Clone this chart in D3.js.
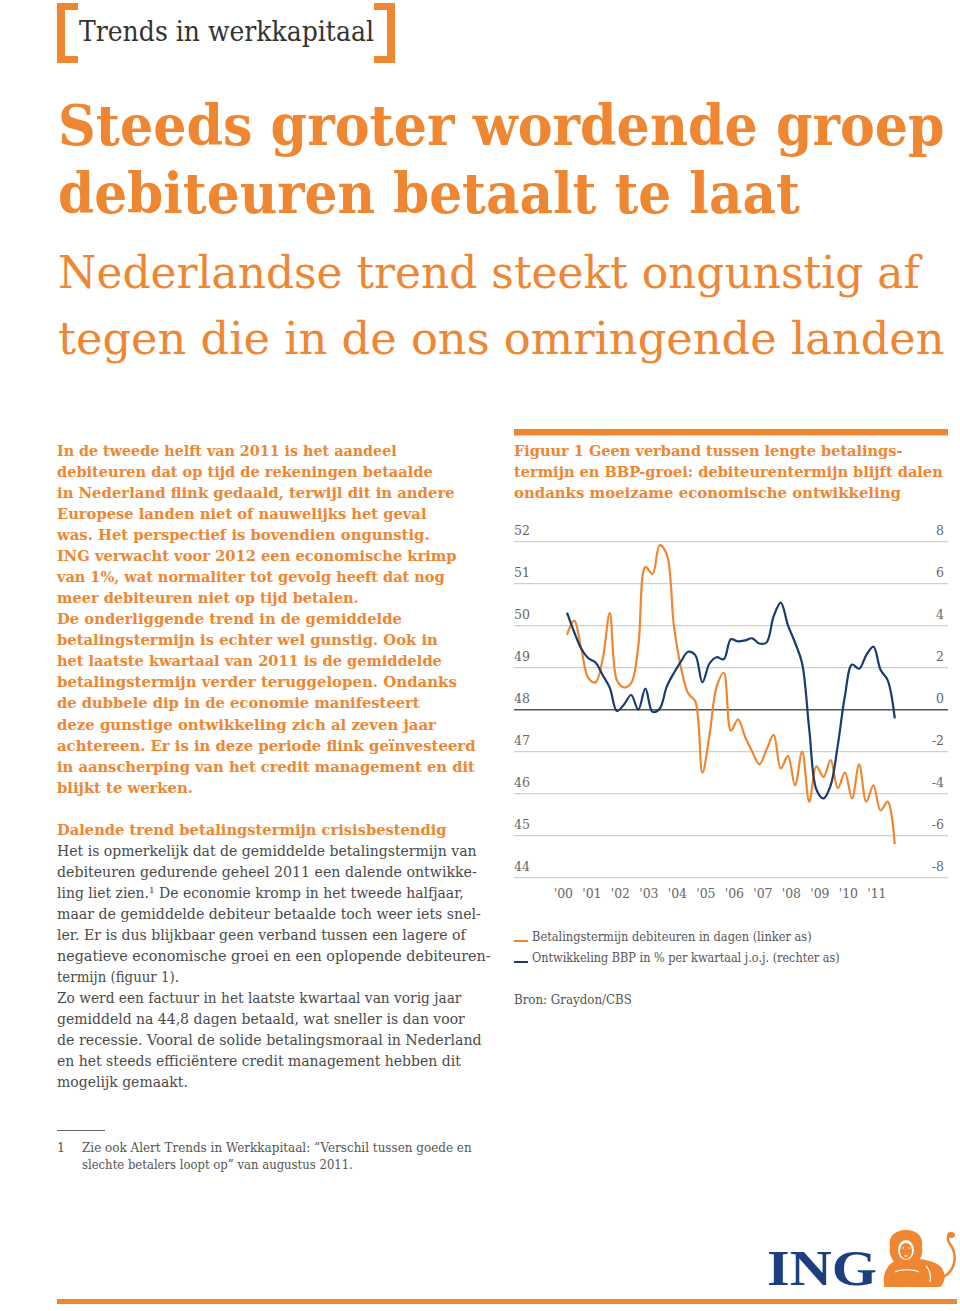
<!DOCTYPE html>
<html><head><meta charset="utf-8">
<script src="https://cdnjs.cloudflare.com/ajax/libs/d3/7.8.5/d3.min.js"></script>
<style>
html,body{margin:0;padding:0;background:#fff;}
svg{display:block;}
</style></head>
<body>
<svg id="page" width="960" height="1311"></svg>
<script>
// ---------------- DATA ----------------
const quarters = ["2000Q2","2000Q3","2000Q4","2001Q1","2001Q2","2001Q3","2001Q4","2002Q1","2002Q2","2002Q3","2002Q4",
 "2003Q1","2003Q2","2003Q3","2003Q4","2004Q1","2004Q2","2004Q3","2004Q4","2005Q1","2005Q2","2005Q3","2005Q4",
 "2006Q1","2006Q2","2006Q3","2006Q4","2007Q1","2007Q2","2007Q3","2007Q4","2008Q1","2008Q2","2008Q3","2008Q4",
 "2009Q1","2009Q2","2009Q3","2009Q4","2010Q1","2010Q2","2010Q3","2010Q4","2011Q1","2011Q2","2011Q3","2011Q4"];
// Betalingstermijn debiteuren in dagen (linker as)
const termijn = [49.78, 50.12, 49.45, 48.75, 48.65, 49.2, 50.3, 48.7, 48.53, 48.63, 49.5,
 51.4, 51.23, 51.92, 51.7, 50.0, 49.0, 48.39, 48.2, 46.5, 47.4, 48.55, 48.88,
 47.5, 47.77, 47.35, 47.0, 46.7, 47.05, 47.4, 46.6, 46.9, 46.2, 47.0, 45.81,
 46.65, 46.4, 46.8, 46.13, 46.5, 45.89, 46.7, 45.81, 46.2, 45.6, 45.81, 44.8];
// Ontwikkeling BBP in % per kwartaal j.o.j. (rechter as)
const bbp = [4.62, 3.7, 2.9, 2.45, 2.25, 1.65, 1.05, -0.06, 0.25, 0.7, 0.0,
 1.0, -0.1, 0.05, 1.1, 1.75, 2.3, 2.76, 2.6, 1.3, 2.2, 2.5, 2.4,
 3.35, 3.25, 3.3, 3.4, 3.15, 3.2, 4.45, 5.1, 4.03, 3.2, 2.2, -0.95,
 -3.8, -4.22, -3.6, -1.7, 0.65, 2.15, 1.95, 2.6, 3.0, 1.9, 1.41, -0.41];
const leftTicks = [44,45,46,47,48,49,50,51,52];
const rightTicks = [-8,-6,-4,-2,0,2,4,6,8];
const yearTicks = [2000,2001,2002,2003,2004,2005,2006,2007,2008,2009,2010,2011];
const legendLabels = ["Betalingstermijn debiteuren in dagen (linker as)","Ontwikkeling BBP in % per kwartaal j.o.j. (rechter as)"];

// ---------------- TEXT ----------------
const chartTitle = ["Figuur 1 Geen verband tussen lengte betalings-",
 "termijn en BBP-groei: debiteurentermijn blijft dalen",
 "ondanks moeizame economische ontwikkeling"];
const introLines = ["In de tweede helft van 2011 is het aandeel",
 "debiteuren dat op tijd de rekeningen betaalde",
 "in Nederland flink gedaald, terwijl dit in andere",
 "Europese landen niet of nauwelijks het geval",
 "was. Het perspectief is bovendien ongunstig.",
 "ING verwacht voor 2012 een economische krimp",
 "van 1%, wat normaliter tot gevolg heeft dat nog",
 "meer debiteuren niet op tijd betalen.",
 "De onderliggende trend in de gemiddelde",
 "betalingstermijn is echter wel gunstig. Ook in",
 "het laatste kwartaal van 2011 is de gemiddelde",
 "betalingstermijn verder teruggelopen. Ondanks",
 "de dubbele dip in de economie manifesteert",
 "deze gunstige ontwikkeling zich al zeven jaar",
 "achtereen. Er is in deze periode flink geïnvesteerd",
 "in aanscherping van het credit management en dit",
 "blijkt te werken."];
const introWidths = [340,376,398,370,373,400,388,302,345,381,385,400,363,379,419,418,136];
const bodyLines = ["Het is opmerkelijk dat de gemiddelde betalingstermijn van",
 "debiteuren gedurende geheel 2011 een dalende ontwikke-",
 "ling liet zien.\u00B9 De economie kromp in het tweede halfjaar,",
 "maar de gemiddelde debiteur betaalde toch weer iets snel-",
 "ler. Er is dus blijkbaar geen verband tussen een lagere of",
 "negatieve economische groei en een oplopende debiteuren-",
 "termijn (figuur 1).",
 "Zo werd een factuur in het laatste kwartaal van vorig jaar",
 "gemiddeld na 44,8 dagen betaald, wat sneller is dan voor",
 "de recessie. Vooral de solide betalingsmoraal in Nederland",
 "en het steeds efficiëntere credit management hebben dit",
 "mogelijk gemaakt."];
const bodyWidths = [420,420,407,424,409,434,122,405,408,425,404,131];

// ---------------- DRAW ----------------
const ORANGE = "#EE8632", BLUE = "#163C72", GRAY = "#555", SERIF = "'DejaVu Serif', serif";
const svg = d3.select("#page");
svg.append("rect").attr("width",960).attr("height",1311).attr("fill","#fff");

// text fitted to a measured width by a horizontal scale
function txt(s, x, y, size, opts={}) {
  const t = svg.append("text").attr("x",x).attr("y",y)
    .attr("font-family", opts.family || SERIF).attr("font-size",size)
    .attr("font-weight", opts.weight || "normal").attr("fill", opts.fill || GRAY)
    .attr("text-anchor", opts.anchor || "start").text(s);
  if (opts.len) {
    const w = t.node().getComputedTextLength();
    t.attr("x",0).attr("y",0).attr("transform",`translate(${x},${y}) scale(${opts.len/w},1)`);
  }
  return t;
}

// Header brackets
const br = svg.append("g").attr("fill",ORANGE);
br.append("rect").attr("x",57).attr("y",3).attr("width",8).attr("height",60);
br.append("rect").attr("x",57).attr("y",3).attr("width",21).attr("height",7);
br.append("rect").attr("x",57).attr("y",56).attr("width",21).attr("height",7);
br.append("rect").attr("x",387).attr("y",3).attr("width",8).attr("height",60);
br.append("rect").attr("x",374).attr("y",3).attr("width",21).attr("height",7);
br.append("rect").attr("x",374).attr("y",56).attr("width",21).attr("height",7);
txt("Trends in werkkapitaal", 79, 41, 28, {fill:"#333", len:295});

// Title
txt("Steeds groter wordende groep", 58, 145, 56, {fill:ORANGE, weight:"bold", len:887});
txt("debiteuren betaalt te laat", 58, 213, 56, {fill:ORANGE, weight:"bold", len:742});
txt("Nederlandse trend steekt ongunstig af", 58, 288, 44, {fill:ORANGE, len:862});
txt("tegen die in de ons omringende landen", 58, 354, 44, {fill:ORANGE, len:887});

// Intro paragraph
introLines.forEach((s,i)=> txt(s, 57, 456 + i*21.04, 14.5, {fill:ORANGE, weight:"bold", len:introWidths[i]}));

// Section
txt("Dalende trend betalingstermijn crisisbestendig", 57, 835, 14.5, {fill:ORANGE, weight:"bold", len:390});
bodyLines.forEach((s,i)=> txt(s, 57, 856 + i*21, 15, {fill:"#4a4a4a", len:bodyWidths[i]}));

// Footnote
svg.append("line").attr("x1",57).attr("x2",105).attr("y1",1130.5).attr("y2",1130.5).attr("stroke","#666").attr("stroke-width",1);
txt("1", 57, 1152, 12.5, {fill:"#555"});
txt("Zie ook Alert Trends in Werkkapitaal: \u201CVerschil tussen goede en", 82, 1152, 12.5, {fill:"#555", len:390});
txt("slechte betalers loopt op\u201D van augustus 2011.", 82, 1169, 12.5, {fill:"#555", len:271});

// ---------------- CHART ----------------
svg.append("rect").attr("x",514).attr("y",429).attr("width",434).attr("height",6.5).attr("fill",ORANGE);
const ctw = [389, 429, 387];
chartTitle.forEach((s,i)=> txt(s, 514, 455.5 + i*21, 14.5, {fill:ORANGE, weight:"bold", len:ctw[i]}));

const x = d3.scaleLinear().domain([2000, 2012]).range([559.9, 901.9]);
const yL = d3.scaleLinear().domain([44, 52]).range([877.7, 541.7]);
const yR = d3.scaleLinear().domain([-8, 8]).range([877.7, 541.7]);
const qTime = q => +q.slice(0,4) + (+q.slice(5) - 1) / 4;

const chart = svg.append("g");
// gridlines
chart.append("g").selectAll("line").data(leftTicks).join("line")
  .attr("x1",514).attr("x2",948)
  .attr("y1",d=>yL(d)).attr("y2",d=>yL(d))
  .attr("stroke",d=> d===48 ? "#555" : "#cfcfcf")
  .attr("stroke-width",d=> d===48 ? 1.6 : 1.2);

// left axis labels
const lAxis = chart.append("g").attr("transform","translate(514,0)")
  .call(d3.axisRight(yL).tickValues(leftTicks).tickSize(0).tickPadding(0).tickFormat(d=>String(d)));
lAxis.select(".domain").remove();
lAxis.selectAll("text").attr("dy","-0.55em").attr("font-family",SERIF).attr("font-size",12.5).attr("fill","#666");

const rAxis = chart.append("g").attr("transform","translate(944,0)")
  .call(d3.axisLeft(yR).tickValues(rightTicks).tickSize(0).tickPadding(0).tickFormat(d=>String(d)));
rAxis.select(".domain").remove();
rAxis.selectAll("text").attr("dy","-0.55em").attr("font-family",SERIF).attr("font-size",12.5).attr("fill","#666");

const xAxis = chart.append("g").attr("transform","translate(3,889)")
  .call(d3.axisBottom(x).tickValues(yearTicks).tickSize(0).tickPadding(0).tickFormat(d=>"'"+String(d).slice(2)));
xAxis.select(".domain").remove();
xAxis.selectAll("text").attr("font-family",SERIF).attr("font-size",12.5).attr("fill","#666");

// lines
const lineL = d3.line().x((d,i)=>x(qTime(quarters[i]))).y(d=>yL(d)).curve(d3.curveCatmullRom.alpha(0.5));
const lineR = d3.line().x((d,i)=>x(qTime(quarters[i]))).y(d=>yR(d)).curve(d3.curveCatmullRom.alpha(0.5));
chart.append("path").datum(termijn).attr("d",lineL).attr("fill","none").attr("stroke",ORANGE).attr("stroke-width",2.2).attr("stroke-linejoin","round");
chart.append("path").datum(bbp).attr("d",lineR).attr("fill","none").attr("stroke",BLUE).attr("stroke-width",2.2).attr("stroke-linejoin","round");

// legend
const legColors = [ORANGE, BLUE];
const legW = [280, 308];
legendLabels.forEach((s,i)=>{
  const yy = 941 + i*21;
  svg.append("line").attr("x1",514).attr("x2",528).attr("y1",yy).attr("y2",yy).attr("stroke",legColors[i]).attr("stroke-width",2);
  txt(s, 532, yy, 13, {fill:"#555", len:legW[i]});
});
txt("Bron: Graydon/CBS", 514, 1004, 13, {fill:"#555", len:118});

// ---------------- LOGO ----------------
svg.append("text").attr("x",767).attr("y",1285).attr("font-family","'Liberation Serif', serif")
  .attr("font-weight","bold").attr("font-size",50).attr("fill","#1B3F7F")
  .attr("textLength",110).attr("lengthAdjust","spacingAndGlyphs").text("ING");
const lion = svg.append("g").attr("fill",ORANGE).attr("stroke","none");
// body
lion.append("path").attr("d","M893,1262 C905,1256 930,1258 940,1266 C946,1272 946,1282 940,1287 L885,1287 C882,1280 884,1268 893,1262 Z");
// mane/head
lion.append("path").attr("d","M890,1246 C888,1236 896,1230 906,1230 C916,1230 924,1236 922,1247 C924,1256 918,1266 906,1268 C894,1266 888,1256 890,1246 Z");
lion.append("ellipse").attr("cx",906).attr("cy",1250).attr("rx",8).attr("ry",10).attr("fill","#fff");
lion.append("ellipse").attr("cx",906).attr("cy",1251).attr("rx",6).attr("ry",8).attr("fill",ORANGE);
lion.append("path").attr("d","M902,1248 h2 M908,1248 h2 M904,1256 h4").attr("stroke","#fff").attr("stroke-width",1.2);
// paws
lion.append("path").attr("d","M884,1287 C884,1280 892,1278 898,1281 L902,1287 Z");
lion.append("path").attr("d","M903,1287 C903,1280 911,1278 917,1281 L921,1287 Z");
lion.append("path").attr("d","M895,1272 c6,-3 18,-3 24,0 M926,1266 c4,4 5,10 4,16").attr("stroke","#fff").attr("stroke-width",1.2).attr("fill","none");
// tail
lion.append("path").attr("d","M941,1278 C956,1272 958,1255 950,1244 C947,1240 947,1236 950,1234").attr("stroke",ORANGE).attr("stroke-width",2.5).attr("fill","none");
lion.append("ellipse").attr("cx",951).attr("cy",1235).attr("rx",4).attr("ry",3);

// bottom bar
svg.append("rect").attr("x",57).attr("y",1299).attr("width",900).attr("height",5).attr("fill",ORANGE);
</script>
</body></html>
